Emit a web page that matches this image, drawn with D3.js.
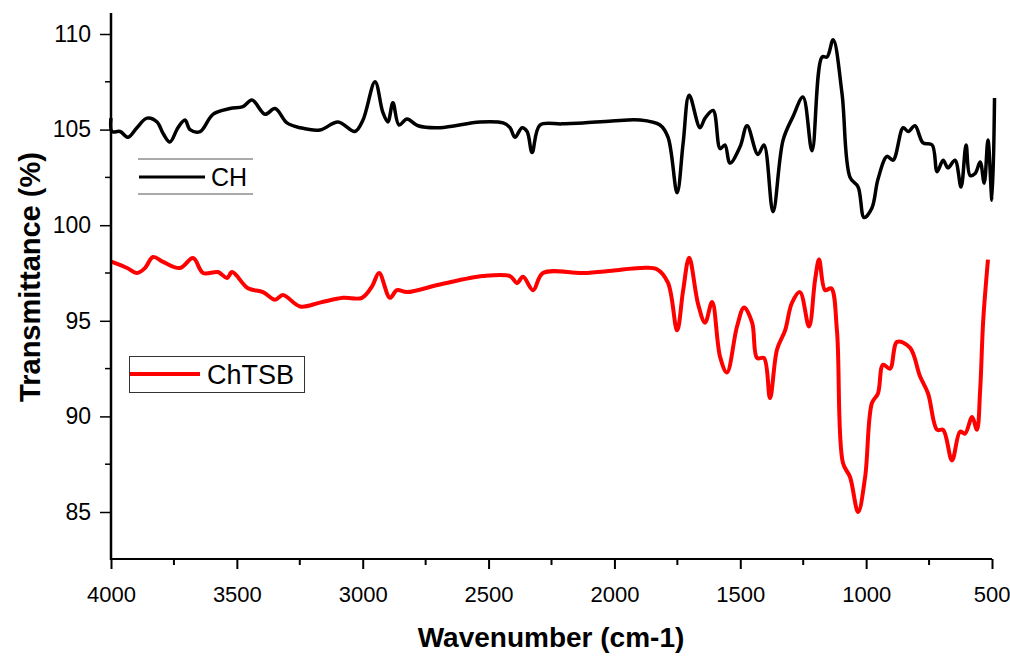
<!DOCTYPE html>
<html>
<head>
<meta charset="utf-8">
<script src="https://cdn.jsdelivr.net/npm/d3@7"></script>
<style>
  body { margin: 0; background: #fff; }
  text { font-family: "Liberation Sans", Arial, sans-serif; }
</style>
</head>
<body>
<div id="vis"></div>
<script>
// wavenumber (cm-1) / transmittance (%)
const chWave = [4000, 3996, 3964, 3932, 3897, 3857, 3817, 3793, 3766, 3734, 3706, 3686, 3646, 3595, 3527, 3476, 3440, 3388, 3348, 3301, 3249, 3170, 3098, 3031, 2999, 2951, 2920, 2900, 2880, 2856, 2824, 2780, 2693, 2534, 2442, 2415, 2395, 2367, 2347, 2327, 2296, 2210, 2125, 2010, 1898, 1819, 1787, 1751, 1727, 1703, 1660, 1640, 1608, 1580, 1561, 1541, 1501, 1473, 1430, 1406, 1370, 1330, 1290, 1251, 1215, 1175, 1155, 1131, 1096, 1064, 1032, 1008, 977, 953, 917, 893, 853, 833, 806, 774, 738, 718, 694, 675, 647, 623, 603, 587, 567, 547, 531, 516, 500, 490];
const chT = [105.6, 104.9, 104.9, 104.6, 105.1, 105.6, 105.4, 104.8, 104.35, 105.1, 105.5, 105.0, 104.9, 105.8, 106.1, 106.2, 106.55, 105.8, 106.1, 105.35, 105.1, 104.98, 105.4, 104.9, 105.5, 107.5, 105.9, 105.4, 106.4, 105.24, 105.55, 105.2, 105.1, 105.4, 105.35, 105.1, 104.6, 105.1, 104.9, 103.8, 105.24, 105.3, 105.35, 105.45, 105.5, 105.24, 104.6, 101.7, 104.3, 106.8, 105.1, 105.6, 106.0, 104.0, 104.2, 103.25, 104.1, 105.2, 103.7, 104.2, 100.7, 104.45, 105.7, 106.7, 103.9, 108.8, 108.8, 109.7, 106.9, 102.5, 102.0, 100.4, 100.9, 102.4, 103.6, 103.4, 105.1, 104.9, 105.2, 104.3, 104.2, 102.8, 103.4, 103.0, 103.4, 102.0, 104.2, 102.6, 102.7, 103.3, 102.2, 104.45, 101.3, 106.65];

const chtsbWave = [4000, 3996, 3936, 3897, 3865, 3833, 3793, 3726, 3674, 3634, 3575, 3539, 3519, 3456, 3396, 3348, 3317, 3249, 3170, 3078, 3003, 2963, 2935, 2892, 2864, 2824, 2693, 2522, 2415, 2387, 2363, 2323, 2284, 2125, 2010, 1898, 1831, 1787, 1751, 1727, 1703, 1668, 1640, 1612, 1580, 1553, 1513, 1485, 1453, 1433, 1406, 1382, 1354, 1322, 1295, 1263, 1227, 1203, 1187, 1163, 1139, 1116, 1092, 1064, 1032, 1004, 977, 953, 933, 905, 877, 826, 786, 754, 718, 694, 659, 627, 607, 579, 560, 547, 535, 516];
const chtsbT = [98.1, 98.08, 97.76, 97.5, 97.76, 98.34, 98.08, 97.76, 98.28, 97.5, 97.55, 97.24, 97.55, 96.7, 96.5, 96.1, 96.35, 95.75, 95.95, 96.2, 96.2, 96.8, 97.5, 96.2, 96.6, 96.5, 96.9, 97.34, 97.34, 96.98, 97.3, 96.6, 97.5, 97.5, 97.62, 97.76, 97.7, 96.98, 94.5, 96.6, 98.3, 95.9, 94.9, 95.98, 93.1, 92.3, 94.7, 95.7, 94.9, 93.05, 93.05, 90.96, 93.5, 94.5, 95.93, 96.5, 94.7, 97.13, 98.2, 96.6, 96.7, 94.5, 87.56, 86.83, 85.0, 86.83, 90.7, 91.2, 92.7, 92.5, 93.9, 93.6, 92.1, 91.2, 89.3, 89.3, 87.7, 89.2, 89.1, 89.97, 89.3, 91.4, 95.0, 98.2];

const xTicks = [4000, 3500, 3000, 2500, 2000, 1500, 1000, 500];
const yTicks = [85, 90, 95, 100, 105, 110];

const W = 1010, H = 656;
const x = d3.scaleLinear().domain([4000, 500]).range([111, 992]);
const y = d3.scaleLinear().domain([85, 110]).range([512, 34]);
const yBottom = 559, yTop = 13;

const svg = d3.select("#vis").append("svg")
    .attr("width", W)
    .attr("height", H);

const line = d3.line()
    .curve(d3.curveCatmullRom.alpha(0.5))
    .x(d => x(d[0]))
    .y(d => y(d[1]));

svg.append("path")
    .datum(d3.zip(chWave, chT))
    .attr("fill", "none")
    .attr("stroke", "#000")
    .attr("stroke-width", 3.5)
    .attr("stroke-linejoin", "round")
    .attr("d", line);

svg.append("path")
    .datum(d3.zip(chtsbWave, chtsbT))
    .attr("fill", "none")
    .attr("stroke", "#ff0000")
    .attr("stroke-width", 4)
    .attr("stroke-linejoin", "round")
    .attr("d", line);

// axes
const xAxis = d3.axisBottom(x).tickValues(xTicks).tickSize(10).tickPadding(17).tickFormat(d3.format("d"));
const gx = svg.append("g").attr("transform", `translate(0,${yBottom})`).call(xAxis);
gx.select(".domain").remove();
gx.append("line").attr("x1", x(4000)).attr("x2", x(500)).attr("stroke", "#000").attr("stroke-width", 2);
gx.selectAll(".tick line").attr("stroke-width", 2);
gx.selectAll(".tick text").attr("font-size", 22).attr("fill", "#000")
    .attr("font-family", "'Liberation Sans', Arial, sans-serif");
// last label sits against the right edge, as in the original
gx.selectAll(".tick text").filter(d => d === 500).attr("text-anchor", "end").attr("x", 18);
gx.selectAll(".minor").data(d3.range(3750, 500, -500)).enter().append("line")
    .attr("x1", d => x(d)).attr("x2", d => x(d)).attr("y1", 0).attr("y2", 6)
    .attr("stroke", "#000").attr("stroke-width", 2);

const yAxis = d3.axisLeft(y).tickValues(yTicks).tickSize(11).tickPadding(9);
const gy = svg.append("g").attr("transform", `translate(${x(4000)},0)`).call(yAxis);
gy.select(".domain").remove();
gy.append("line").attr("y1", yTop).attr("y2", yBottom + 1).attr("stroke", "#000").attr("stroke-width", 2.5);
gy.selectAll(".tick line").attr("stroke-width", 1.5);
gy.selectAll(".tick text").attr("font-size", 23).attr("fill", "#000")
    .attr("font-family", "'Liberation Sans', Arial, sans-serif");
gy.selectAll(".minor").data([87.5, 92.5, 97.5, 102.5, 107.5]).enter().append("line")
    .attr("x1", -6).attr("x2", 0).attr("y1", d => y(d)).attr("y2", d => y(d))
    .attr("stroke", "#000").attr("stroke-width", 1.5);

// axis titles
svg.append("text")
    .attr("x", 551)
    .attr("y", 647)
    .attr("text-anchor", "middle")
    .style("font-size", "28px")
    .style("font-weight", "bold")
    .text("Wavenumber (cm-1)");

svg.append("text")
    .attr("transform", "translate(40,277) rotate(-90)")
    .attr("text-anchor", "middle")
    .style("font-size", "29px")
    .style("font-weight", "bold")
    .text("Transmittance (%)");

// legends
const lgCH = svg.append("g");
lgCH.append("line").attr("x1", 138).attr("x2", 253).attr("y1", 159).attr("y2", 159).attr("stroke", "#555").attr("stroke-width", 1);
lgCH.append("line").attr("x1", 138).attr("x2", 253).attr("y1", 194).attr("y2", 194).attr("stroke", "#555").attr("stroke-width", 1);
lgCH.append("line").attr("x1", 139).attr("x2", 205).attr("y1", 177).attr("y2", 177).attr("stroke", "#000").attr("stroke-width", 3);
lgCH.append("text").attr("x", 211).attr("y", 186).style("font-size", "25px").text("CH");

const lgTSB = svg.append("g");
lgTSB.append("rect").attr("x", 129.5).attr("y", 356.5).attr("width", 175).attr("height", 36)
    .attr("fill", "none").attr("stroke", "#333").attr("stroke-width", 1);
lgTSB.append("line").attr("x1", 130).attr("x2", 200).attr("y1", 374).attr("y2", 374).attr("stroke", "#ff0000").attr("stroke-width", 4);
lgTSB.append("text").attr("x", 207).attr("y", 384).style("font-size", "27px").text("ChTSB");
</script>
</body>
</html>
